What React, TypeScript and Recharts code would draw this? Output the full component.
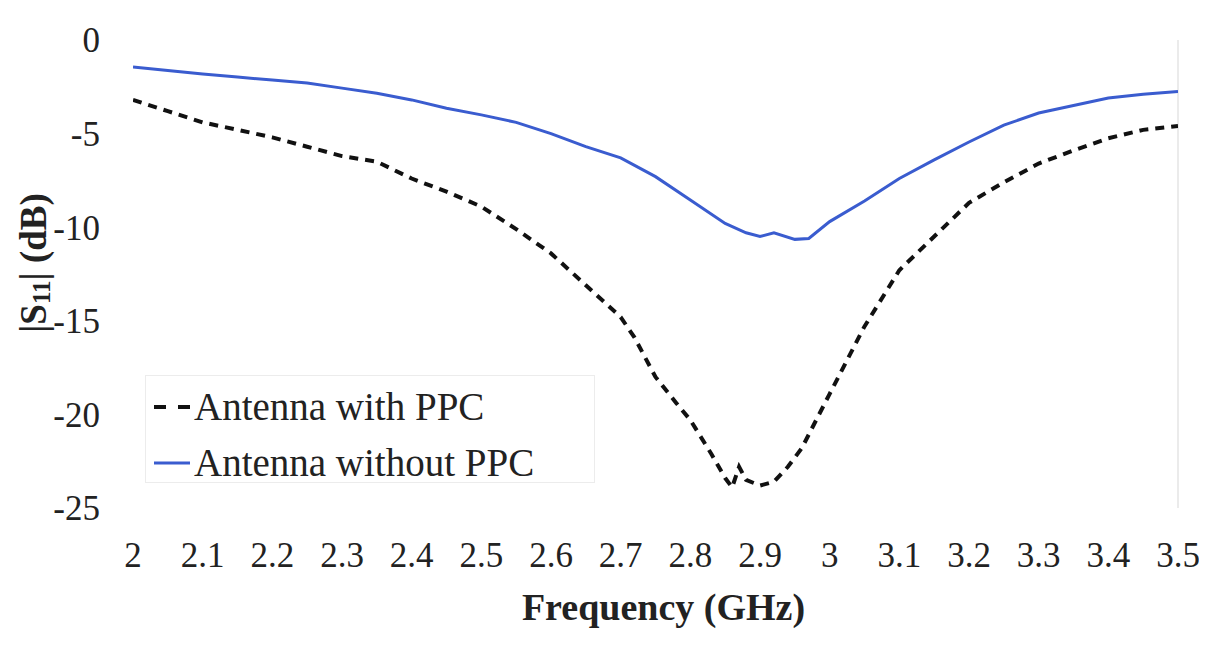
import React from "react"
import { LineChart, Line, XAxis, YAxis, ReferenceLine } from "recharts"

// |S11| readings, antenna with the PPC (dashed black)
const withFreq = [
  2.0, 2.05, 2.1, 2.15, 2.2, 2.25, 2.3, 2.35, 2.4, 2.45, 2.5, 2.55, 2.6, 2.65, 2.7, 2.72, 2.75, 2.78, 2.8, 2.83,
  2.85, 2.86, 2.87, 2.88, 2.9, 2.92, 2.94, 2.96, 3.0, 3.05, 3.1, 3.15, 3.2, 3.25, 3.3, 3.35, 3.4, 3.45, 3.5,
]
const withS11 = [
  -3.2, -3.8, -4.4, -4.8, -5.2, -5.7, -6.2, -6.5, -7.4, -8.1, -8.9, -10.1, -11.4, -13.1, -14.8, -15.9, -18.0,
  -19.4, -20.3, -22.1, -23.4, -23.9, -22.8, -23.5, -23.8, -23.6, -22.8, -21.8, -18.9, -15.3, -12.3, -10.5, -8.7,
  -7.6, -6.6, -5.9, -5.25, -4.8, -4.6,
]

// antenna without the PPC (solid blue)
const withoutFreq = [
  2.0, 2.05, 2.1, 2.15, 2.2, 2.25, 2.3, 2.35, 2.4, 2.45, 2.5, 2.55, 2.6, 2.65, 2.7, 2.75, 2.8, 2.85, 2.88, 2.9,
  2.92, 2.95, 2.97, 3.0, 3.05, 3.1, 3.15, 3.2, 3.25, 3.3, 3.35, 3.4, 3.45, 3.5,
]
const withoutS11 = [
  -1.44, -1.63, -1.82, -1.98, -2.14, -2.3, -2.57, -2.85, -3.2, -3.65, -4.0, -4.4, -5.0, -5.7, -6.3, -7.3, -8.55,
  -9.8, -10.3, -10.5, -10.3, -10.65, -10.6, -9.7, -8.6, -7.4, -6.4, -5.45, -4.55, -3.9, -3.5, -3.1, -2.9, -2.75,
]

const seriesNames = ["Antenna with PPC", "Antenna without PPC"]
const xTicks = [2, 2.1, 2.2, 2.3, 2.4, 2.5, 2.6, 2.7, 2.8, 2.9, 3, 3.1, 3.2, 3.3, 3.4, 3.5]
const yTicks = [0, -5, -10, -15, -20, -25]

const withData = withFreq.map((f, i) => ({ f, v: withS11[i] }))
const withoutData = withoutFreq.map((f, i) => ({ f, v: withoutS11[i] }))

const FONT = "'Liberation Serif', 'Times New Roman', serif"
const BLUE = "#3a5ccf"

function ChartLegend() {
  return (
    <div
      style={{
        position: "absolute",
        left: 137,
        top: 367,
        width: 450,
        height: 108,
        boxSizing: "border-box",
        border: "1px solid #ececec",
        paddingTop: 3,
        paddingLeft: 6,
        fontFamily: FONT,
        fontSize: 39,
        lineHeight: "56px",
        color: "#222",
      }}
    >
      <div style={{ display: "flex", alignItems: "center" }}>
        <svg width={42} height={10}>
          <line x1={2} y1={5} x2={40} y2={5} stroke="#111" strokeWidth={4} strokeDasharray="12 12" />
        </svg>
        <span>{seriesNames[0]}</span>
      </div>
      <div style={{ display: "flex", alignItems: "center" }}>
        <svg width={42} height={10}>
          <line x1={2} y1={5} x2={38} y2={5} stroke={BLUE} strokeWidth={3} />
        </svg>
        <span>{seriesNames[1]}</span>
      </div>
    </div>
  )
}

const YTitle = () => {
  const cx = 25
  const cy = 255
  return (
    <text
      x={cx}
      y={cy}
      transform={`rotate(-90, ${cx}, ${cy})`}
      textAnchor="middle"
      dominantBaseline="central"
      fontFamily={FONT}
      fontWeight="bold"
      fontSize={37}
      fill="#222"
    >
      |S
      <tspan fontSize={25} dy={8}>11</tspan>
      <tspan dy={-8}>| (dB)</tspan>
    </text>
  )
}

const XTitle = ({ viewBox }: any) => (
  <text
    x={viewBox.x + viewBox.width / 2 + 8}
    y={viewBox.y + 112}
    textAnchor="middle"
    fontFamily={FONT}
    fontWeight="bold"
    fontSize={38}
    fill="#222"
  >
    Frequency (GHz)
  </text>
)

export default function App() {
  return (
    <div style={{ position: "relative", width: 1199, height: 640 }}>
      <LineChart width={1199} height={640} margin={{ top: 32, right: 29, bottom: 30, left: 45 }}>
        <XAxis
          type="number"
          dataKey="f"
          domain={[2, 3.5]}
          ticks={xTicks}
          interval={0}
          axisLine={false}
          tickLine={false}
          tickMargin={28}
          height={110}
          allowDataOverflow
          tick={{ fontFamily: FONT, fontSize: 35, fill: "#222" }}
          label={<XTitle />}
        />
        <YAxis
          type="number"
          domain={[-25, 0]}
          ticks={yTicks}
          interval={0}
          axisLine={false}
          tickLine={false}
          tickMargin={27}
          width={80}
          allowDataOverflow
          tick={{ fontFamily: FONT, fontSize: 35, fill: "#222" }}
          label={<YTitle />}
        />
        <ReferenceLine x={3.5} stroke="#e4e4e4" strokeWidth={1.5} />
        <Line
          data={withData}
          dataKey="v"
          name={seriesNames[0]}
          type="linear"
          stroke="#111"
          strokeWidth={4}
          strokeDasharray="9 7"
          dot={false}
          isAnimationActive={false}
        />
        <Line
          data={withoutData}
          dataKey="v"
          name={seriesNames[1]}
          type="linear"
          stroke={BLUE}
          strokeWidth={3}
          dot={false}
          isAnimationActive={false}
        />
      </LineChart>
      <ChartLegend />
    </div>
  )
}
